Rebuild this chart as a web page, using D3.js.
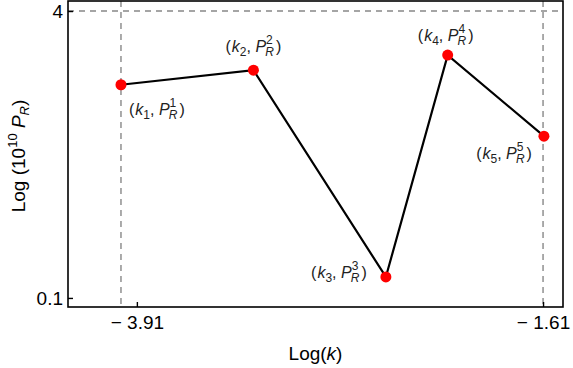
<!DOCTYPE html>
<html>
<head>
<meta charset="utf-8">
<script src="https://cdn.jsdelivr.net/npm/d3@7"></script>
<style>
  body { margin: 0; background: #fff; }
  text { font-family: "Liberation Sans", Arial, sans-serif; }
</style>
</head>
<body>
<svg id="chart" width="573" height="368"></svg>
<script>
// data
var logK = [-4.0, -3.25, -2.5, -2.15, -1.605];
var pR = [1.55, 1.87, 0.131, 2.27, 0.80];
var pointIdx = [1, 2, 3, 4, 5];
var xTicks = [-3.91, -1.61];
var yTicks = [0.1, 4];
var xDomain = [-4.3, -1.497];
var yDomain = [0.089, 4.55];
var vLines = [-4.0, -1.61];
var hLines = [4];

// label offsets relative to each point (dx, dy, anchor)
var labelPos = [[8, 30, "start"], [0, -18, "middle"], [-19, 1, "end"], [-2, -14, "middle"], [-12, 23, "end"]];

var svg = d3.select("#chart");
var pl = 68, pr = 563, pt = 1, pb = 307;

var x = d3.scaleLinear().domain(xDomain).range([pl, pr]);
var y = d3.scaleLog().domain(yDomain).range([pb, pt]);

// dashed guides
svg.selectAll(".vl").data(vLines).enter().append("line")
  .attr("x1", function(d) { return x(d); }).attr("x2", function(d) { return x(d); })
  .attr("y1", pt).attr("y2", pb)
  .attr("stroke", "#888").attr("stroke-width", 1.4).attr("stroke-dasharray", "6,5");
svg.selectAll(".hl").data(hLines).enter().append("line")
  .attr("x1", pl).attr("x2", pr)
  .attr("y1", function(d) { return y(d); }).attr("y2", function(d) { return y(d); })
  .attr("stroke", "#888").attr("stroke-width", 1.4).attr("stroke-dasharray", "6,5");

// frame
svg.append("rect").attr("x", pl).attr("y", pt)
  .attr("width", pr - pl).attr("height", pb - pt)
  .attr("fill", "none").attr("stroke", "#000").attr("stroke-width", 1.6);

// ticks (inside)
var xAxis = d3.axisBottom(x).tickValues(xTicks).tickSize(-5).tickPadding(9)
  .tickFormat(function(d) { return "\u2212 " + Math.abs(d).toFixed(2); });
var gx = svg.append("g").attr("transform", "translate(0," + pb + ")").call(xAxis);
gx.select(".domain").remove();
gx.selectAll("text").attr("font-size", 19).attr("fill", "#000");

var yAxis = d3.axisLeft(y).tickValues(yTicks).tickSize(-5).tickPadding(5)
  .tickFormat(function(d) { return d; });
var gy = svg.append("g").attr("transform", "translate(" + pl + ",0)").call(yAxis);
gy.select(".domain").remove();
gy.selectAll("text").attr("font-size", 19).attr("fill", "#000");
gx.selectAll("line").attr("stroke-width", 1.4);
gy.selectAll("line").attr("stroke-width", 1.4);

// line + points
var pts = logK.map(function(k, i) { return [k, pR[i]]; });
svg.append("path").datum(pts)
  .attr("d", d3.line().x(function(d) { return x(d[0]); }).y(function(d) { return y(d[1]); }))
  .attr("fill", "none").attr("stroke", "#000").attr("stroke-width", 2.2);
svg.selectAll(".pt").data(pts).enter().append("circle")
  .attr("cx", function(d) { return x(d[0]); }).attr("cy", function(d) { return y(d[1]); })
  .attr("r", 5.5).attr("fill", "#f00");

// point labels (k_i, P^i_R)
pts.forEach(function(d, i) {
  var o = labelPos[i];
  var t = svg.append("text")
    .attr("x", x(d[0]) + o[0]).attr("y", y(d[1]) + o[1])
    .attr("text-anchor", o[2]).attr("font-size", 16).attr("fill", "#222");
  t.append("tspan").text("(");
  t.append("tspan").attr("font-style", "italic").attr("dx", 1).text("k");
  t.append("tspan").attr("font-size", 12).attr("dy", 4).text(pointIdx[i]);
  t.append("tspan").attr("dy", -4).text(",  ");
  t.append("tspan").attr("font-style", "italic").text("P");
  t.append("tspan").attr("font-size", 12).attr("dy", -8).text(pointIdx[i]);
  t.append("tspan").attr("font-size", 12).attr("font-style", "italic").attr("dx", -7.5).attr("dy", 12).text("R");
  t.append("tspan").attr("dx", 2).attr("dy", -4).text(")");
});

// axis titles
var xt = svg.append("text").attr("x", (pl + pr) / 2).attr("y", 360)
  .attr("text-anchor", "middle").attr("font-size", 19).attr("fill", "#000");
xt.append("tspan").text("Log(");
xt.append("tspan").attr("font-style", "italic").text("k");
xt.append("tspan").text(")");

var yt = svg.append("text").attr("transform", "translate(25,156) rotate(-90)")
  .attr("text-anchor", "middle").attr("font-size", 19).attr("fill", "#000");
yt.append("tspan").text("Log (10");
yt.append("tspan").attr("font-size", 13).attr("dy", -8).text("10");
yt.append("tspan").attr("font-style", "italic").attr("dy", 8).text(" P");
yt.append("tspan").attr("font-size", 13).attr("font-style", "italic").attr("dy", 4).text("R");
yt.append("tspan").attr("dy", -4).text(")");
</script>
</body>
</html>
